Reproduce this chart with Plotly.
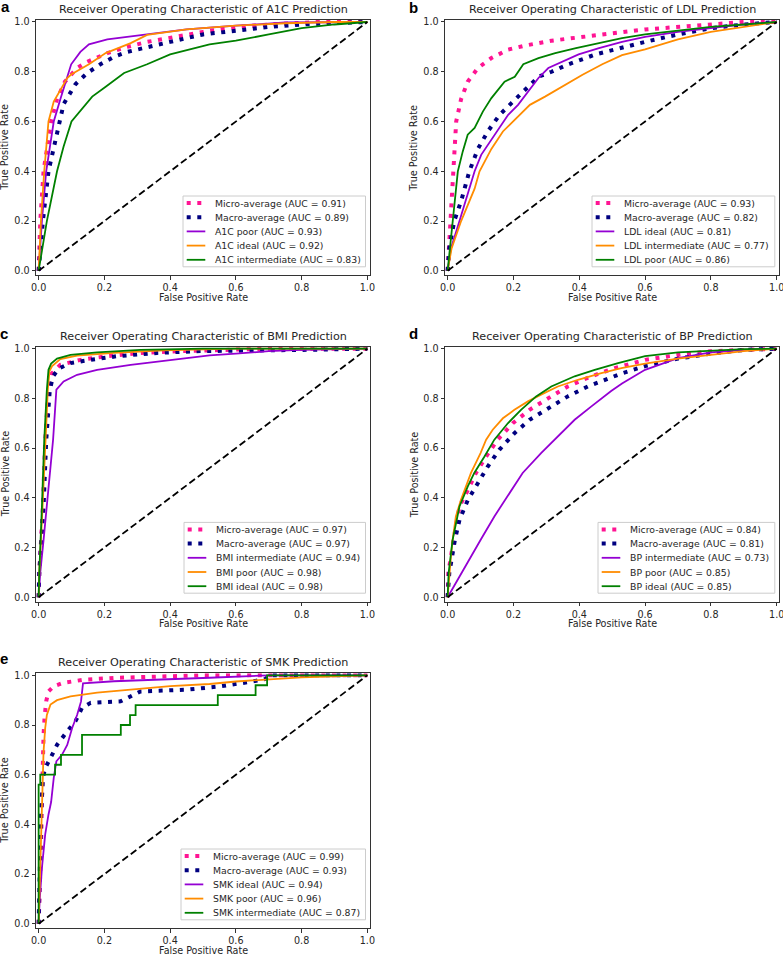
import plotly.graph_objects as go

W, H = 783, 955

# --- A1C ---------------------------------------------------------------
A1C_MICRO_FPR = [0, 0.005, 0.015, 0.038, 0.056, 0.08, 0.117, 0.148, 0.209, 0.27, 0.33, 0.41, 0.5, 0.6, 0.7, 0.85, 1.0]
A1C_MICRO_TPR = [0, 0.2, 0.4, 0.6, 0.69, 0.76, 0.815, 0.84, 0.875, 0.9, 0.92, 0.94, 0.96, 0.98, 0.99, 1.0, 1.0]
A1C_MACRO_FPR = [0, 0.013, 0.03, 0.056, 0.076, 0.112, 0.148, 0.188, 0.229, 0.27, 0.34, 0.40, 0.5, 0.6, 0.7, 0.8, 0.95, 1.0]
A1C_MACRO_TPR = [0, 0.2, 0.4, 0.56, 0.67, 0.75, 0.795, 0.83, 0.86, 0.88, 0.9, 0.92, 0.95, 0.965, 0.98, 0.99, 1.0, 1.0]
A1C_POOR_FPR = [0, 0.01, 0.023, 0.046, 0.066, 0.084, 0.099, 0.127, 0.153, 0.209, 0.30, 0.45, 0.6, 0.75, 1.0]
A1C_POOR_TPR = [0, 0.2, 0.4, 0.6, 0.69, 0.77, 0.83, 0.88, 0.91, 0.93, 0.946, 0.97, 0.985, 0.998, 1.0]
A1C_IDEAL_FPR = [0, 0.007, 0.017, 0.03, 0.046, 0.064, 0.087, 0.10, 0.153, 0.204, 0.24, 0.28, 0.33, 0.38, 0.45, 0.6, 0.75, 0.9, 1.0]
A1C_IDEAL_TPR = [0, 0.2, 0.4, 0.6, 0.68, 0.72, 0.775, 0.79, 0.83, 0.875, 0.895, 0.915, 0.948, 0.958, 0.97, 0.985, 0.995, 1.0, 1.0]
A1C_INTER_FPR = [0, 0.025, 0.056, 0.076, 0.10, 0.137, 0.163, 0.204, 0.26, 0.33, 0.40, 0.52, 0.6, 0.7, 0.8, 0.9, 1.0]
A1C_INTER_TPR = [0, 0.2, 0.4, 0.5, 0.6, 0.66, 0.7, 0.74, 0.795, 0.83, 0.87, 0.91, 0.925, 0.95, 0.975, 0.99, 1.0]

# --- LDL ---------------------------------------------------------------
LDL_MICRO_FPR = [0, 0.008, 0.015, 0.026, 0.041, 0.061, 0.092, 0.133, 0.184, 0.235, 0.316, 0.41, 0.51, 0.6, 0.75, 0.9, 1.0]
LDL_MICRO_TPR = [0, 0.2, 0.4, 0.6, 0.69, 0.76, 0.815, 0.855, 0.889, 0.905, 0.925, 0.94, 0.955, 0.97, 0.985, 1.0, 1.0]
LDL_MACRO_FPR = [0, 0.005, 0.02, 0.041, 0.066, 0.092, 0.122, 0.158, 0.194, 0.23, 0.276, 0.316, 0.367, 0.45, 0.52, 0.6, 0.7, 0.8, 0.9, 1.0]
LDL_MACRO_TPR = [0, 0.09, 0.2, 0.28, 0.4, 0.49, 0.56, 0.627, 0.674, 0.72, 0.78, 0.8, 0.83, 0.87, 0.895, 0.92, 0.95, 0.975, 0.99, 1.0]
LDL_IDEAL_FPR = [0, 0.01, 0.036, 0.066, 0.082, 0.102, 0.133, 0.158, 0.184, 0.214, 0.245, 0.276, 0.306, 0.347, 0.398, 0.46, 0.53, 0.6, 0.7, 0.8, 0.9, 1.0]
LDL_IDEAL_TPR = [0, 0.09, 0.2, 0.33, 0.4, 0.466, 0.527, 0.574, 0.627, 0.667, 0.72, 0.775, 0.815, 0.84, 0.87, 0.895, 0.92, 0.94, 0.96, 0.975, 0.99, 1.0]
LDL_INTER_FPR = [0, 0.012, 0.041, 0.082, 0.097, 0.133, 0.168, 0.209, 0.25, 0.296, 0.357, 0.41, 0.47, 0.53, 0.6, 0.7, 0.8, 0.9, 1.0]
LDL_INTER_TPR = [0, 0.09, 0.2, 0.33, 0.4, 0.49, 0.56, 0.614, 0.667, 0.7, 0.748, 0.788, 0.83, 0.867, 0.89, 0.93, 0.96, 0.98, 1.0]
LDL_POOR_FPR = [0, 0.015, 0.031, 0.046, 0.061, 0.082, 0.107, 0.133, 0.173, 0.204, 0.23, 0.276, 0.327, 0.39, 0.46, 0.53, 0.6, 0.7, 0.8, 0.9, 1.0]
LDL_POOR_TPR = [0, 0.2, 0.4, 0.48, 0.547, 0.574, 0.64, 0.694, 0.76, 0.78, 0.83, 0.855, 0.875, 0.895, 0.915, 0.935, 0.95, 0.965, 0.98, 0.99, 1.0]

# --- BMI ---------------------------------------------------------------
BMI_MICRO_FPR = [0, 0.002, 0.013, 0.02, 0.03, 0.04, 0.066, 0.127, 0.21, 0.31, 0.43, 0.7, 1.0]
BMI_MICRO_TPR = [0, 0.1, 0.365, 0.63, 0.835, 0.9, 0.935, 0.955, 0.97, 0.983, 0.99, 1.0, 1.0]
BMI_MACRO_FPR = [0, 0.002, 0.015, 0.023, 0.034, 0.044, 0.061, 0.097, 0.158, 0.24, 0.36, 0.48, 0.8, 1.0]
BMI_MACRO_TPR = [0, 0.1, 0.365, 0.63, 0.835, 0.889, 0.92, 0.942, 0.955, 0.97, 0.983, 0.99, 0.995, 1.0]
BMI_INTER_FPR = [0, 0.005, 0.015, 0.03, 0.044, 0.054, 0.076, 0.117, 0.178, 0.28, 0.40, 0.52, 0.6, 0.7, 0.8, 1.0]
BMI_INTER_TPR = [0, 0.1, 0.23, 0.43, 0.634, 0.835, 0.868, 0.895, 0.915, 0.935, 0.955, 0.973, 0.98, 0.99, 0.995, 1.0]
BMI_POOR_FPR = [0, 0.002, 0.012, 0.02, 0.028, 0.033, 0.041, 0.066, 0.117, 0.229, 0.382, 0.6, 1.0]
BMI_POOR_TPR = [0, 0.1, 0.365, 0.63, 0.835, 0.91, 0.93, 0.958, 0.972, 0.983, 0.993, 1.0, 1.0]
BMI_IDEAL_FPR = [0, 0.002, 0.01, 0.017, 0.025, 0.03, 0.038, 0.056, 0.097, 0.178, 0.31, 0.5, 1.0]
BMI_IDEAL_TPR = [0, 0.1, 0.365, 0.63, 0.835, 0.915, 0.94, 0.96, 0.975, 0.985, 0.995, 1.0, 1.0]

# --- BP ----------------------------------------------------------------
BP_MICRO_FPR = [0, 0.002, 0.018, 0.036, 0.061, 0.086, 0.117, 0.152, 0.198, 0.249, 0.305, 0.365, 0.437, 0.508, 0.6, 0.7, 0.8, 0.9, 1.0]
BP_MICRO_TPR = [0, 0.097, 0.23, 0.365, 0.43, 0.5, 0.566, 0.634, 0.7, 0.754, 0.8, 0.848, 0.889, 0.922, 0.955, 0.975, 0.99, 0.997, 1.0]
BP_MACRO_FPR = [0, 0.005, 0.022, 0.036, 0.061, 0.091, 0.122, 0.157, 0.203, 0.249, 0.305, 0.365, 0.426, 0.487, 0.528, 0.6, 0.7, 0.8, 0.9, 1.0]
BP_MACRO_TPR = [0, 0.097, 0.23, 0.311, 0.39, 0.46, 0.526, 0.593, 0.66, 0.714, 0.761, 0.808, 0.848, 0.88, 0.9, 0.93, 0.96, 0.98, 0.995, 1.0]
BP_INTER_FPR = [0, 0.03, 0.071, 0.10, 0.142, 0.193, 0.228, 0.284, 0.335, 0.386, 0.437, 0.497, 0.53, 0.6, 0.7, 0.8, 0.9, 1.0]
BP_INTER_TPR = [0, 0.07, 0.164, 0.23, 0.325, 0.43, 0.5, 0.58, 0.647, 0.714, 0.768, 0.83, 0.86, 0.915, 0.962, 0.985, 0.995, 1.0]
BP_POOR_FPR = [0, 0.005, 0.01, 0.015, 0.025, 0.04, 0.056, 0.071, 0.10, 0.117, 0.137, 0.168, 0.203, 0.244, 0.284, 0.335, 0.396, 0.467, 0.528, 0.6, 0.7, 0.8, 0.9, 1.0]
BP_POOR_TPR = [0, 0.097, 0.164, 0.23, 0.325, 0.39, 0.445, 0.5, 0.58, 0.634, 0.674, 0.72, 0.754, 0.788, 0.815, 0.848, 0.875, 0.902, 0.922, 0.94, 0.96, 0.975, 0.99, 1.0]
BP_IDEAL_FPR = [0, 0.003, 0.015, 0.036, 0.061, 0.081, 0.112, 0.142, 0.183, 0.223, 0.269, 0.315, 0.386, 0.447, 0.518, 0.6, 0.7, 0.8, 0.9, 1.0]
BP_IDEAL_TPR = [0, 0.097, 0.23, 0.365, 0.445, 0.5, 0.566, 0.634, 0.7, 0.754, 0.808, 0.848, 0.889, 0.915, 0.942, 0.97, 0.985, 0.993, 0.998, 1.0]

# --- SMK ---------------------------------------------------------------
SMK_MICRO_FPR = [0, 0.003, 0.007, 0.01, 0.012, 0.015, 0.018, 0.023, 0.03, 0.046, 0.076, 0.137, 0.239, 0.5, 1.0]
SMK_MICRO_TPR = [0, 0.09, 0.29, 0.49, 0.627, 0.76, 0.83, 0.895, 0.935, 0.956, 0.97, 0.982, 0.99, 1.0, 1.0]
SMK_MACRO_FPR = [0, 0.003, 0.007, 0.013, 0.02, 0.036, 0.056, 0.087, 0.112, 0.132, 0.158, 0.249, 0.28, 0.31, 0.45, 0.55, 0.65, 0.69, 0.7, 1.0]
SMK_MACRO_TPR = [0, 0.225, 0.426, 0.587, 0.627, 0.667, 0.72, 0.775, 0.815, 0.869, 0.889, 0.895, 0.916, 0.935, 0.942, 0.955, 0.975, 0.985, 1.0, 1.0]
SMK_IDEAL_FPR = [0, 0.003, 0.01, 0.02, 0.03, 0.038, 0.046, 0.054, 0.071, 0.087, 0.102, 0.117, 0.129, 0.135, 0.229, 0.38, 0.52, 0.7, 1.0]
SMK_IDEAL_TPR = [0, 0.09, 0.225, 0.36, 0.44, 0.49, 0.587, 0.654, 0.68, 0.72, 0.788, 0.84, 0.895, 0.968, 0.976, 0.982, 0.99, 1.0, 1.0]
SMK_POOR_FPR = [0, 0.005, 0.008, 0.012, 0.015, 0.02, 0.025, 0.036, 0.056, 0.097, 0.178, 0.28, 0.40, 0.52, 0.6, 0.8, 1.0]
SMK_POOR_TPR = [0, 0.225, 0.426, 0.6, 0.694, 0.788, 0.84, 0.882, 0.9, 0.915, 0.93, 0.942, 0.956, 0.965, 0.975, 0.992, 1.0]
SMK_INTER_FPR = [0, 0, 0.005, 0.005, 0.05, 0.05, 0.068, 0.068, 0.132, 0.132, 0.25, 0.25, 0.278, 0.278, 0.295, 0.295, 0.545, 0.545, 0.66, 0.66, 0.695, 0.695, 1.0]
SMK_INTER_TPR = [0, 0.56, 0.56, 0.6, 0.6, 0.64, 0.64, 0.68, 0.68, 0.76, 0.76, 0.8, 0.8, 0.84, 0.84, 0.88, 0.88, 0.92, 0.92, 0.96, 0.96, 1.0, 1.0]

CHANCE = [0.0, 1.0]
TICKS = [0.0, 0.2, 0.4, 0.6, 0.8, 1.0]

STYLE = {
    "micro": dict(color="deeppink", width=4, dash="4px,6.6px"),
    "macro": dict(color="navy", width=4, dash="4px,6.6px"),
    "c1": dict(color="darkviolet", width=1.8),
    "c2": dict(color="darkorange", width=1.8),
    "c3": dict(color="green", width=1.8),
}
KINDS = ["micro", "macro", "c1", "c2", "c3"]

PANELS = [
    dict(letter="a", target="A1C",
         labels=["Micro-average", "Macro-average", "A1C poor", "A1C ideal", "A1C intermediate"],
         auc=[0.91, 0.89, 0.93, 0.92, 0.83],
         curves=[(A1C_MICRO_FPR, A1C_MICRO_TPR), (A1C_MACRO_FPR, A1C_MACRO_TPR),
                 (A1C_POOR_FPR, A1C_POOR_TPR), (A1C_IDEAL_FPR, A1C_IDEAL_TPR),
                 (A1C_INTER_FPR, A1C_INTER_TPR)]),
    dict(letter="b", target="LDL",
         labels=["Micro-average", "Macro-average", "LDL ideal", "LDL intermediate", "LDL poor"],
         auc=[0.93, 0.82, 0.81, 0.77, 0.86],
         curves=[(LDL_MICRO_FPR, LDL_MICRO_TPR), (LDL_MACRO_FPR, LDL_MACRO_TPR),
                 (LDL_IDEAL_FPR, LDL_IDEAL_TPR), (LDL_INTER_FPR, LDL_INTER_TPR),
                 (LDL_POOR_FPR, LDL_POOR_TPR)]),
    dict(letter="c", target="BMI",
         labels=["Micro-average", "Macro-average", "BMI intermediate", "BMI poor", "BMI ideal"],
         auc=[0.97, 0.97, 0.94, 0.98, 0.98],
         curves=[(BMI_MICRO_FPR, BMI_MICRO_TPR), (BMI_MACRO_FPR, BMI_MACRO_TPR),
                 (BMI_INTER_FPR, BMI_INTER_TPR), (BMI_POOR_FPR, BMI_POOR_TPR),
                 (BMI_IDEAL_FPR, BMI_IDEAL_TPR)]),
    dict(letter="d", target="BP",
         labels=["Micro-average", "Macro-average", "BP intermediate", "BP poor", "BP ideal"],
         auc=[0.84, 0.81, 0.73, 0.85, 0.85],
         curves=[(BP_MICRO_FPR, BP_MICRO_TPR), (BP_MACRO_FPR, BP_MACRO_TPR),
                 (BP_INTER_FPR, BP_INTER_TPR), (BP_POOR_FPR, BP_POOR_TPR),
                 (BP_IDEAL_FPR, BP_IDEAL_TPR)]),
    dict(letter="e", target="SMK",
         labels=["Micro-average", "Macro-average", "SMK ideal", "SMK poor", "SMK intermediate"],
         auc=[0.99, 0.93, 0.94, 0.96, 0.87],
         curves=[(SMK_MICRO_FPR, SMK_MICRO_TPR), (SMK_MACRO_FPR, SMK_MACRO_TPR),
                 (SMK_IDEAL_FPR, SMK_IDEAL_TPR), (SMK_POOR_FPR, SMK_POOR_TPR),
                 (SMK_INTER_FPR, SMK_INTER_TPR)]),
]

# page-pixel layout: axes boxes (left, right, top, bottom), legend box left edge
BOXES = [(36, 370, 20, 275.3), (445, 779.3, 20, 275.3),
         (36, 370, 346.7, 601.7), (445, 779.3, 346.7, 601.7),
         (36, 370, 673.3, 928.3)]
LEGEND_LEFT = [183, 592, 184, 598, 181]
LETTER_POS = [(5, 6), (413, 7.5), (4, 333), (413, 333.5), (4, 658)]
ROW = 14.2          # legend row pitch, matplotlib-like

FONT = "DejaVu Sans"
INK = "#262626"


def fx(px):
    return px / W


def fy(py):
    return 1 - py / H


fig = go.Figure()
annotations, shapes = [], []
layout = {}

for i, p in enumerate(PANELS, start=1):
    l, r, t, b = BOXES[i - 1]
    sfx = "" if i == 1 else str(i)
    for kind, (fpr, tpr) in zip(KINDS, p["curves"]):
        fig.add_trace(go.Scatter(x=fpr, y=tpr, mode="lines", line=STYLE[kind],
                                 showlegend=False, xaxis="x" + sfx, yaxis="y" + sfx))
    fig.add_trace(go.Scatter(
        x=CHANCE, y=CHANCE, mode="lines", showlegend=False,
        line=dict(color="black", width=1.8, dash="7px,3.5px"),
        xaxis="x" + sfx, yaxis="y" + sfx,
    ))

    ax = dict(showgrid=False, zeroline=False, showline=True, mirror=True,
              linecolor="#333", linewidth=1, ticks="outside", ticklen=3.5,
              tickcolor="#333", tickvals=TICKS, tickformat=".1f", automargin=False,
              ticklabeloverflow="allow",
              tickfont=dict(family=FONT, size=9.6, color=INK), fixedrange=True)
    layout["xaxis" + sfx] = dict(ax, domain=[fx(l), fx(r)], anchor="y" + sfx,
                                 range=[-0.008, 1.008])
    layout["yaxis" + sfx] = dict(ax, domain=[fy(b), fy(t)], anchor="x" + sfx,
                                 range=[-0.018, 1.008])

    # matplotlib-style legend box in the lower right corner
    lg_l, lg_r, lg_b = LEGEND_LEFT[i - 1], r - 4.5, b - 8.5
    lg_t = lg_b - (4 * ROW + 14)
    shapes.append(dict(type="rect", xref="paper", yref="paper", layer="above",
                       x0=fx(lg_l), x1=fx(lg_r), y0=fy(lg_b), y1=fy(lg_t),
                       fillcolor="rgba(255,255,255,0.8)",
                       line=dict(color="#cccccc", width=1)))
    for k, (kind, label, auc) in enumerate(zip(KINDS, p["labels"], p["auc"])):
        yc = fy(lg_t + 7 + k * ROW)
        shapes.append(dict(type="line", xref="paper", yref="paper", layer="above",
                           x0=fx(lg_l + 3.7), x1=fx(lg_l + 22.3), y0=yc, y1=yc,
                           line=STYLE[kind]))
        annotations.append(dict(text=f"{label} (AUC = {auc:.2f})", x=fx(lg_l + 29.5),
                                y=yc, xanchor="left", yanchor="middle",
                                font=dict(family=FONT, size=9.3, color=INK)))

    cx = fx((l + r) / 2)
    annotations += [
        dict(text=f"Receiver Operating Characteristic of {p['target']} Prediction",
             x=cx, y=fy(t), yshift=10.5, xanchor="center", yanchor="middle",
             font=dict(family=FONT, size=11.2, color=INK)),
        dict(text="False Positive Rate", x=cx, y=fy(b), yshift=-22,
             xanchor="center", yanchor="middle",
             font=dict(family=FONT, size=9.6, color=INK)),
        dict(text="True Positive Rate", x=fx(l), xshift=-31, y=fy((t + b) / 2),
             textangle=-90, xanchor="center", yanchor="middle",
             font=dict(family=FONT, size=9.6, color=INK)),
        dict(text=f"<b>{p['letter']}</b>", x=fx(LETTER_POS[i - 1][0]),
             y=fy(LETTER_POS[i - 1][1]), xanchor="center", yanchor="middle",
             font=dict(family="Liberation Sans", size=15, color="black")),
    ]

for a in annotations:
    a.update(xref="paper", yref="paper", showarrow=False)

fig.update_layout(
    width=W, height=H,
    margin=dict(l=0, r=0, t=0, b=0),
    paper_bgcolor="white", plot_bgcolor="white",
    showlegend=False,
    annotations=annotations,
    shapes=shapes,
    **layout,
)

# the figure fills the whole page, so drop the default body margin
fig.write_html("out.html", config={"displayModeBar": False},
               post_script="document.body.style.margin = '0px';")
